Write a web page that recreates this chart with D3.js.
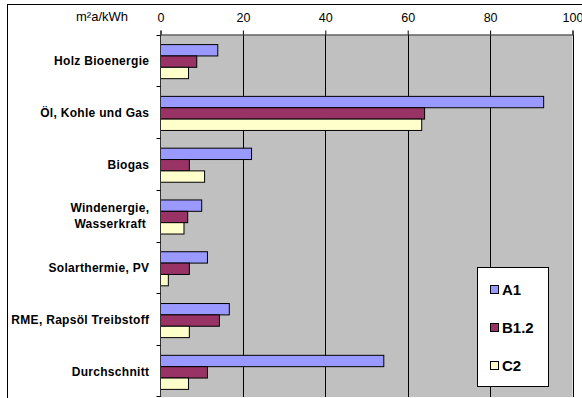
<!DOCTYPE html>
<html>
<head>
<meta charset="utf-8">
<script src="https://cdn.jsdelivr.net/npm/d3@7"></script>
<style>
  html, body { margin: 0; padding: 0; background: #fff; }
  svg { display: block; font-family: "Liberation Sans", Arial, sans-serif; }
</style>
</head>
<body>
<svg id="chart" width="582" height="398"></svg>
<script>
// Flächenbedarf je Energieträger (m²a/kWh)
const categories = [
  "Holz Bioenergie",
  "Öl, Kohle und Gas",
  "Biogas",
  "Windenergie,\nWasserkraft",
  "Solarthermie, PV",
  "RME, Rapsöl Treibstoff",
  "Durchschnitt"
];
const seriesNames = ["A1", "B1.2", "C2"];
const valuesA1  = [13.9, 93.0, 22.1, 10.0, 11.4, 16.7, 54.2];
const valuesB12 = [8.8, 64.1, 7.0, 6.6, 7.0, 14.3, 11.4];
const valuesC2  = [6.8, 63.4, 10.7, 5.7, 1.9, 7.0, 6.8];
const xTicks = [0, 20, 40, 60, 80, 100];
const unitLabel = "m²a/kWh";

const seriesValues = [valuesA1, valuesB12, valuesC2];
const colors = ["#9999FF", "#993366", "#FFFFCC"];

const svg = d3.select("#chart");

// Outer chart frame
svg.append("rect")
  .attr("x", 7.5).attr("y", 4.5)
  .attr("width", 620).attr("height", 420)
  .attr("fill", "none").attr("stroke", "#000").attr("stroke-width", 1);

const plot = { left: 160.5, right: 572.5, top: 34.5, bottom: 397 };

const x = d3.scaleLinear().domain([0, 100]).range([plot.left, plot.right]);
const y0 = d3.scaleBand().domain(categories).range([plot.top, plot.bottom]).padding(0);
const y1 = d3.scaleBand().domain(seriesNames).range([0, y0.bandwidth()])
  .paddingInner(0).paddingOuter(0.78).align(0.57);

// Plot area background
svg.append("rect")
  .attr("x", plot.left).attr("y", plot.top)
  .attr("width", plot.right - plot.left).attr("height", plot.bottom - plot.top)
  .attr("fill", "#C0C0C0");

// Vertical gridlines
svg.append("g")
  .selectAll("line")
  .data(xTicks.filter(t => t > 0))
  .join("line")
  .attr("x1", d => Math.round(x(d)) + 0.5).attr("x2", d => Math.round(x(d)) + 0.5)
  .attr("y1", plot.top).attr("y2", plot.bottom)
  .attr("stroke", "#000").attr("stroke-width", 1);

// Bars
const groups = svg.append("g")
  .selectAll("g")
  .data(categories)
  .join("g")
  .attr("transform", d => `translate(0,${y0(d)})`);

groups.selectAll("rect")
  .data((d, i) => seriesNames.map((s, j) => ({ s, j, v: seriesValues[j][i] })))
  .join("rect")
  .attr("x", x(0))
  .attr("y", d => y1(d.s))
  .attr("width", d => x(d.v) - x(0))
  .attr("height", y1.bandwidth())
  .attr("fill", d => colors[d.j])
  .attr("stroke", "#000")
  .attr("stroke-width", 1);

// Top value axis
const xAxis = d3.axisTop(x).tickValues(xTicks).tickSize(4).tickPadding(9).tickFormat(d3.format("d"));
const gx = svg.append("g").attr("transform", `translate(0,${plot.top})`).call(xAxis);
gx.select(".domain").attr("stroke", "#333");
gx.selectAll(".tick line").attr("stroke", "#000");
gx.selectAll(".tick text")
  .attr("font-family", "Liberation Sans, Arial, sans-serif")
  .attr("font-size", 12.5).attr("fill", "#000");

// Left category axis with ticks at category boundaries
const gy = svg.append("g");
gy.append("line")
  .attr("x1", plot.left).attr("x2", plot.left)
  .attr("y1", plot.top).attr("y2", plot.bottom)
  .attr("stroke", "#333");
gy.selectAll("line.tk")
  .data(categories.map(c => y0(c)).concat([plot.bottom - 1]))
  .join("line")
  .attr("class", "tk")
  .attr("x1", plot.left - 4).attr("x2", plot.left)
  .attr("y1", d => Math.round(d) + 0.5).attr("y2", d => Math.round(d) + 0.5)
  .attr("stroke", "#000");

const labels = gy.selectAll("text.cat")
  .data(categories)
  .join("text")
  .attr("class", "cat")
  .attr("text-anchor", "end")
  .attr("font-weight", "bold")
  .attr("font-size", 12)
  .attr("letter-spacing", 0.3)
  .attr("fill", "#000");

labels.each(function (d) {
  const lines = d.split("\n");
  const cy = y0(d) + y0.bandwidth() / 2 + 0.5;
  const lh = 16;
  const t = d3.select(this);
  lines.forEach((ln, i) => {
    t.append("tspan")
      .attr("x", i === lines.length - 1 && lines.length > 1 ? 146 : 149.3)
      .attr("y", cy + (i - (lines.length - 1) / 2) * lh)
      .attr("dy", "0.35em")
      .text(ln);
  });
});

// Unit label
svg.append("text")
  .attr("x", 102).attr("y", 21)
  .attr("text-anchor", "middle")
  .attr("font-size", 13).attr("fill", "#000")
  .text(unitLabel);

// Legend
const legend = svg.append("g");
legend.append("rect")
  .attr("x", 477.5).attr("y", 267.5)
  .attr("width", 71).attr("height", 119)
  .attr("fill", "#fff").attr("stroke", "#000");
const legendY = d3.scalePoint().domain(seriesNames).range([290, 366]);
const items = legend.selectAll("g.item")
  .data(seriesNames)
  .join("g")
  .attr("class", "item")
  .attr("transform", d => `translate(0,${legendY(d)})`);
items.append("rect")
  .attr("x", 490.5).attr("y", -4.5)
  .attr("width", 8).attr("height", 8)
  .attr("fill", (d, i) => colors[i]).attr("stroke", "#000");
items.append("text")
  .attr("x", 502).attr("y", 0).attr("dy", "0.36em")
  .attr("font-weight", "bold").attr("font-size", 15).attr("fill", "#000")
  .text(d => d);
</script>
</body>
</html>
